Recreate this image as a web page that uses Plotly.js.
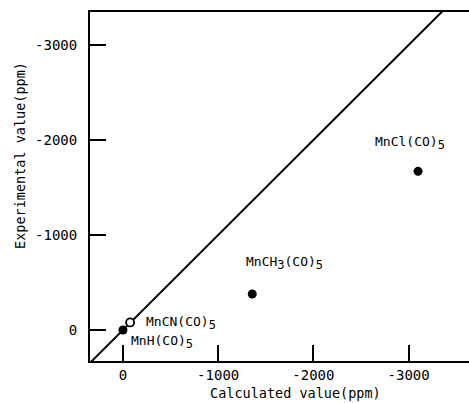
<!DOCTYPE html>
<html>
<head>
<meta charset="utf-8">
<script src="https://cdn.plot.ly/plotly-3.0.1.min.js"></script>
<style>html,body{margin:0;padding:0;background:#fff;}#plot{width:469px;height:403px;}</style>
</head>
<body>
<div id="plot"></div>
<script>
// Data (ppm)
var filledNames = ["MnH(CO)5", "MnCH3(CO)5", "MnCl(CO)5"];
var filledCalc = [0, -1358, -3099];
var filledExp = [0, -379, -1670];
var openNames = ["MnCN(CO)5"];
var openCalc = [-75];
var openExp = [-80];
// y = x reference line
var lineVals = [600, -4000];
// Labels
var sub = function (s) { return "<sub><span style='font-size:12px'>" + s + "</span></sub>"; };
var labelTexts = ["MnCl(CO)" + sub("5"), "MnCH" + sub("3") + "(CO)" + sub("5"), "MnCN(CO)" + sub("5"), "MnH(CO)" + sub("5")];
var labelX = [-3010, -1695, -605, -405];
var labelY = [-1965, -705, -70, 126];
var tickVals = [0, -1000, -2000, -3000];
var tickText = ["0", "-1000", "-2000", "-3000"];
var xTitle = "Calculated value(ppm)";
var yTitle = "Experimental value(ppm)";

var fontFam = "DejaVu Sans Mono, monospace";

var traces = [
  {x: lineVals, y: lineVals, mode: "lines", line: {color: "#000", width: 2}, hoverinfo: "skip"},
  {x: filledCalc, y: filledExp, text: filledNames, mode: "markers", marker: {color: "#000", size: 9}, cliponaxis: false},
  {x: openCalc, y: openExp, text: openNames, mode: "markers", marker: {color: "#fff", size: 8, line: {color: "#000", width: 1.8}}, cliponaxis: false}
];

var annotations = labelTexts.map(function (t, i) {
  return {x: labelX[i], y: labelY[i], xref: "x", yref: "y", text: t, showarrow: false,
    font: {family: fontFam, size: 13, color: "#000"}, xanchor: "center", yanchor: "middle"};
});
annotations.push({x: 295, y: 393, xref: "paper", yref: "paper", text: xTitle, showarrow: false,
  font: {family: fontFam, size: 13.5, color: "#000"}, xanchor: "center", yanchor: "middle"});
annotations.push({x: 20, y: 156, xref: "paper", yref: "paper", text: yTitle, showarrow: false, textangle: -90,
  font: {family: fontFam, size: 13.5, color: "#000"}, xanchor: "center", yanchor: "middle"});
// convert pixel positions for titles to paper coords
var L = 90, R = 0, T = 12, B = 42, W = 469, H = 403;
annotations.forEach(function (a) {
  if (a.xref === "paper") {
    a.x = (a.x - L) / (W - L - R);
    a.y = 1 - (a.y - T) / (H - T - B);
  }
});

var layout = {
  width: W, height: H,
  margin: {l: L, r: R, t: T, b: B, pad: 0},
  paper_bgcolor: "#fff", plot_bgcolor: "#fff",
  showlegend: false,
  font: {family: fontFam, size: 13, color: "#000"},
  xaxis: {
    range: [346, -3634], tickvals: tickVals, ticktext: tickText,
    ticks: "inside", ticklen: 16, tickwidth: 2, tickcolor: "#000",
    showline: true, linecolor: "#000", linewidth: 2, mirror: true,
    showgrid: false, zeroline: false, ticklabelstandoff: 0,
    tickfont: {family: fontFam, size: 14, color: "#000"}
  },
  yaxis: {
    range: [326, -3347], tickvals: tickVals, ticktext: tickText,
    ticks: "inside", ticklen: 16, tickwidth: 2, tickcolor: "#000",
    showline: true, linecolor: "#000", linewidth: 2, mirror: false,
    showgrid: false, zeroline: false, ticklabelstandoff: 8,
    tickfont: {family: fontFam, size: 14, color: "#000"}
  },
  annotations: annotations
};

Plotly.newPlot("plot", traces, layout, {displayModeBar: false, staticPlot: true});
</script>
</body>
</html>
